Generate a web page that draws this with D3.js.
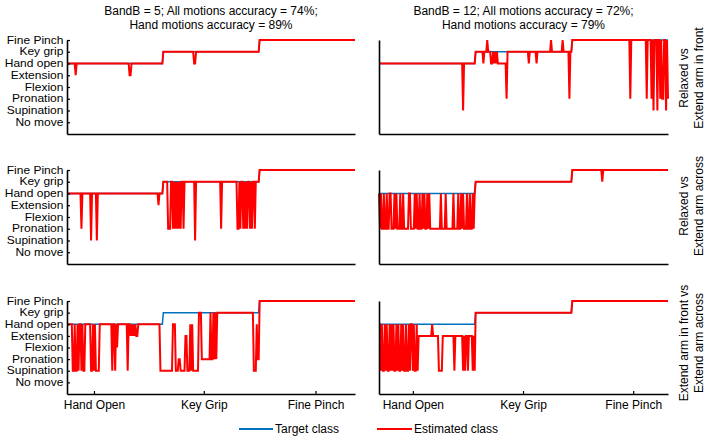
<!DOCTYPE html>
<html>
<head>
<meta charset="utf-8">
<script src="https://cdn.jsdelivr.net/npm/d3@7"></script>
<style>
body { margin:0; background:#fff; }
text { font-family: "Liberation Sans", Arial, sans-serif; }
</style>
</head>
<body>
<svg id="chart" width="708" height="438"></svg>
<script>

// class names, bottom to top
var classes = ["No move", "Supination", "Pronation", "Flexion", "Extension", "Hand open", "Key grip", "Fine Pinch"];
var nSamples = 300;

// runs: [start sample, class] - class holds until next start
var targetRuns = [[0, 5], [100, 6], [200, 7]];

var estB5Front = [[0,5],[9,4],[10,5],[65,4],[67,5],[100,6],[132,5],[134,6],[200,7]];

var estB5Across = [[0,5],[15,2],[16,5],[25,1],[26,5],[31,1],[32,5],[95,4],[96,5],[100,6],
    [105,2],[108,6],[110,2],[111,6],[112,2],[113,6],[114,2],[115,6],[116,2],[117,6],[118,2],[119,6],
    [121,2],[122,6],[133,1],[134,6],[160,2],[161,6],[177,2],[179,6],[180,2],[181,6],[183,2],[184,6],
    [185,2],[186,6],[187,2],[188,6],[190,2],[191,6],[192,2],[193,6],[195,2],[196,6],[200,7]];

var estB5FrontAcross = [[0,5],[6,1],[8,5],[9,1],[11,5],[12,1],[13,5],[15,1],[16,5],[17,1],[19,5],
    [25,1],[27,5],[28,1],[29,5],[30,1],[34,5],[47,1],[48,5],[50,1],[51,5],[52,3],[53,5],[63,1],[64,5],
    [66,4],[67,5],[68,4],[69,5],[70,4],[71,5],[72,4],[74,5],[97,1],[110,5],[113,1],[116,2],[118,1],
    [123,4],[125,1],[128,5],[129,1],[130,5],[131,1],[137,6],[140,2],[149,6],[150,2],[152,6],[153,2],
    [154,6],[155,2],[156,6],[194,1],[197,5],[198,2],[200,7]];

var estB12Front = [[0,5],[87,1],[88,5],[100,6],[108,5],[109,6],[112,7],[113,6],[116,5],[118,6],
    [119,5],[120,6],[121,5],[122,6],[123,5],[132,2],[133,6],[155,5],[156,6],[163,5],[164,6],[178,7],
    [179,6],[190,7],[191,6],[197,2],[198,6],[200,7],[260,2],[261,7],[277,2],[278,7],[282,2],[283,7],
    [284,1],[285,7],[288,1],[289,7],[291,2],[292,7],[293,2],[295,7],[297,1],[298,7],[299,2]];

var estB12Across = [[0,5],[1,2],[2,5],[3,2],[5,5],[6,2],[8,5],[9,2],[11,5],[13,2],[16,5],[17,2],
    [18,5],[19,2],[22,5],[23,2],[25,5],[26,2],[31,5],[33,2],[37,5],[38,2],[39,5],[40,2],[42,5],[43,2],
    [45,5],[46,2],[47,5],[48,2],[50,5],[51,2],[52,5],[53,2],[64,5],[65,2],[69,5],[70,2],[77,5],[78,2],
    [82,5],[83,2],[85,5],[86,2],[87,5],[88,2],[91,5],[92,2],[94,5],[95,2],[97,5],[98,2],[99,5],
    [100,6],[200,7],[231,6],[232,7]];

var estB12FrontAcross = [[0,5],[2,1],[3,5],[4,1],[6,5],[7,1],[8,5],[9,1],[11,5],[12,1],[13,5],
    [14,1],[15,5],[16,1],[18,5],[19,1],[20,5],[21,1],[23,5],[24,1],[25,5],[26,1],[28,5],[29,1],
    [31,5],[32,1],[33,5],[35,1],[36,5],[37,1],[39,5],[40,1],[41,4],[55,5],[56,4],[62,1],[66,4],
    [78,1],[79,4],[87,1],[88,4],[89,1],[90,4],[92,1],[93,4],[97,1],[98,4],[99,1],[100,6],[200,7]];

var titles = [["BandB = 5; All motions accuracy = 74%;", "Hand motions accuracy = 89%"],
              ["BandB = 12; All motions accuracy = 72%;", "Hand motions accuracy = 79%"]];
var rowLabels = [["Relaxed vs", "Extend arm in front"],
                 ["Relaxed vs", "Extend arm across"],
                 ["Extend arm in front vs", "Extend arm across"]];
var xTickNames = ["Hand Open", "Key Grip", "Fine Pinch"];
var xTicksLeft = [28, 142, 258];
var xTicksRight = [35, 149, 263];
var legendNames = ["Target class", "Estimated class"];

var colors = { target: "#0072bd", est: "#ff0000" };

// panel layout
var cols = [[67, 355], [379, 668]];
var rows = [[40, 134], [170, 264], [301, 394]];
var panelData = [[estB5Front, estB12Front], [estB5Across, estB12Across], [estB5FrontAcross, estB12FrontAcross]];
var labelCenters = [78, 206, 343];

function expand(runs){
    var out = [];
    for (var k = 0; k < runs.length; k++) {
        var end = k + 1 < runs.length ? runs[k+1][0] : nSamples;
        for (var i = runs[k][0]; i < end; i++) out.push({i: i, c: runs[k][1]});
    }
    return out;
}

var svg = d3.select("#chart");
var targetData = expand(targetRuns);

rows.forEach(function(r, ri){
    cols.forEach(function(c, ci){
        var x = d3.scaleLinear().domain([0, nSamples - 1]).range(c);
        var y = d3.scaleLinear().domain([-1, 7]).range([r[1], r[0]]);
        var g = svg.append("g");

        var line = d3.line().x(function(d){ return x(d.i); }).y(function(d){ return y(d.c); });

        g.append("path").datum(targetData)
            .attr("d", line)
            .style("fill", "none").style("stroke", colors.target).style("stroke-width", 1.5);
        g.append("path").datum(expand(panelData[ri][ci]))
            .attr("d", line)
            .style("fill", "none").style("stroke", colors.est).style("stroke-width", 2)
            .style("stroke-linejoin", "miter");

        var yAxis = d3.axisLeft(y).tickSizeInner(-3).tickSizeOuter(0).tickPadding(3);
        if (ci == 0) {
            yAxis.tickValues(d3.range(8)).tickFormat(function(i){ return classes[i]; });
        } else {
            yAxis.tickValues([]);
        }
        var ya = g.append("g").attr("transform", "translate(" + c[0] + ",0)").call(yAxis);

        var xAxis = d3.axisBottom(x).tickSizeInner(-3).tickSizeOuter(0).tickPadding(6);
        if (ri == 2) {
            xAxis.tickValues(ci == 0 ? xTicksLeft : xTicksRight)
                .tickFormat(function(d, i){ return xTickNames[i]; });
        } else {
            xAxis.tickValues([]);
        }
        var xa = g.append("g").attr("transform", "translate(0," + r[1] + ")").call(xAxis);

        [ya, xa].forEach(function(a){
            a.select(".domain").style("stroke", "#000").style("stroke-width", 1.6);
            a.selectAll(".tick line").style("stroke", "#000").style("stroke-width", 1.2);
            a.selectAll("text").style("font-size", "12px").style("fill", "#000")
                .style("font-family", "'Liberation Sans', Arial, sans-serif");
        });
        // class labels are packed tight, so use a slightly wide, short face
        ya.selectAll("text").style("font-size", "10px").attr("transform", "scale(1.2,1)");

        if (ri == 0) {
            titles[ci].forEach(function(t, k){
                svg.append("text")
                    .attr("x", (c[0] + c[1]) / 2)
                    .attr("y", 15 + k * 14)
                    .attr("text-anchor", "middle")
                    .style("font-size", "12px")
                    .text(t);
            });
        }
    });

    rowLabels[ri].forEach(function(t, k){
        svg.append("text")
            .attr("transform", "translate(" + (688 + k * 15) + "," + labelCenters[ri] + ") rotate(-90)")
            .attr("text-anchor", "middle")
            .style("font-size", "12px")
            .text(t);
    });
});

// legend
var legendX = [[239, 273], [377, 412]];
[colors.target, colors.est].forEach(function(col, k){
    svg.append("line")
        .attr("x1", legendX[k][0]).attr("x2", legendX[k][1])
        .attr("y1", 429).attr("y2", 429)
        .style("stroke", col).style("stroke-width", 2);
    svg.append("text")
        .attr("x", legendX[k][1] + 2).attr("y", 433)
        .style("font-size", "12px")
        .text(legendNames[k]);
});

</script>
</body>
</html>
